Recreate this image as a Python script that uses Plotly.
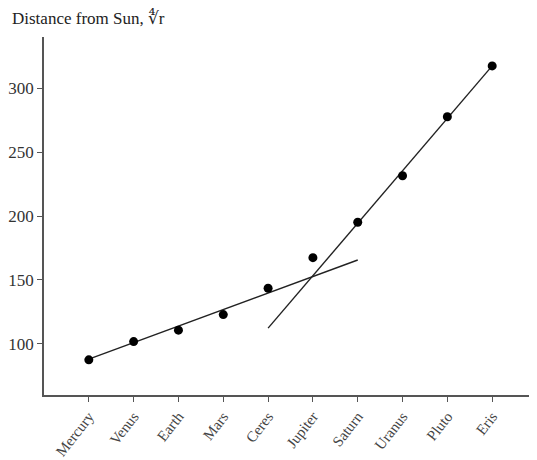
import plotly.graph_objects as go

planets = ["Mercury", "Venus", "Earth", "Mars", "Ceres", "Jupiter", "Saturn", "Uranus", "Pluto", "Eris"]
distance = [87.5, 101.8, 110.7, 122.9, 143.5, 167.4, 195.1, 231.5, 277.6, 317.4]

# fitted trend lines (category index, value)
fit_inner_x = [0, 6]
fit_inner_y = [88.0, 165.6]
fit_outer_x = [4, 9]
fit_outer_y = [112.3, 317.4]

y_ticks = [100, 150, 200, 250, 300]

fig = go.Figure()
fig.add_trace(go.Scatter(x=fit_inner_x, y=fit_inner_y, mode="lines",
                         line=dict(color="#222", width=1.4), hoverinfo="skip"))
fig.add_trace(go.Scatter(x=fit_outer_x, y=fit_outer_y, mode="lines",
                         line=dict(color="#222", width=1.4), hoverinfo="skip"))
fig.add_trace(go.Scatter(x=list(range(len(planets))), y=distance, mode="markers",
                         marker=dict(color="black", size=9)))

font = "Liberation Serif, Times New Roman, DejaVu Serif, serif"
fig.update_layout(
    width=529, height=452,
    margin=dict(l=36, r=0, t=29, b=65),
    paper_bgcolor="white", plot_bgcolor="white",
    showlegend=False,
    font=dict(family=font, size=17, color="#333"),
    xaxis=dict(range=[-1, 10], tickmode="array", tickvals=list(range(len(planets))),
               ticktext=planets, tickangle=-52, showgrid=False, zeroline=False,
               showline=True, linecolor="#555", linewidth=1.5, automargin=False,
               ticks="outside", ticklen=5, tickcolor="#555",
               tickfont=dict(family=font, size=15, color="#444")),
    yaxis=dict(range=[60, 340], tickvals=y_ticks, showgrid=False, zeroline=False,
               showline=True, linecolor="#555", linewidth=1.5, automargin=False,
               ticks="outside", ticklen=5, tickcolor="#555",
               tickfont=dict(family=font, size=17, color="#333")),
    annotations=[dict(text="Distance from Sun, \u221cr", xref="paper", yref="paper",
                      x=-34/493, y=1 + 19/358, xanchor="left", yanchor="middle",
                      showarrow=False, font=dict(family=font, size=17, color="#222"))],
)
fig.write_html("out.html")
